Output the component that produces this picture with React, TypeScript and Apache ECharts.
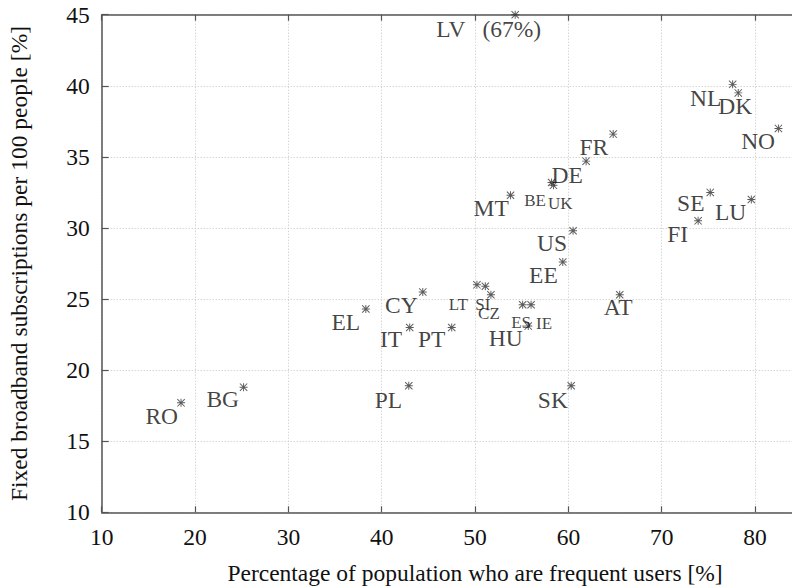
import React, { useEffect, useRef } from 'react';
import * as echarts from 'echarts';

// ---- data ----
const countries = ['RO', 'BG', 'EL', 'CY', 'IT', 'PT', 'PL', 'LT', 'SI', 'CZ', 'ES', 'IE', 'HU', 'SK', 'AT', 'EE', 'US', 'MT', 'BE', 'UK', 'DE', 'FR', 'LV', 'NL', 'DK', 'NO', 'SE', 'LU', 'FI'];
const frequentUsers = [18.5, 25.2, 38.3, 44.4, 43.0, 47.5, 42.9, 50.2, 51.1, 51.7, 55.1, 56.0, 55.7, 60.3, 65.5, 59.4, 60.5, 53.8, 58.2, 58.4, 61.9, 64.8, 54.3, 77.6, 78.2, 82.5, 75.2, 79.6, 73.9];
const broadband = [17.7, 18.8, 24.3, 25.5, 23.0, 23.0, 18.9, 26.0, 25.9, 25.3, 24.6, 24.6, 23.1, 18.9, 25.3, 27.6, 29.8, 32.3, 33.2, 33.0, 34.7, 36.6, 45.0, 40.1, 39.5, 37.0, 32.5, 32.0, 30.5];
const lvTrueValue = '(67%)';

const xMin = 10;
const xMax = 90;
const xStep = 10;
const yMin = 10;
const yMax = 45;
const yStep = 5;

const xTitle = 'Percentage of population who are frequent users [%]';
const yTitle = 'Fixed broadband subscriptions per 100 people [%]';

// ---- label placement (style, not data) ----
type Placement = { align: 'left' | 'right' | 'center'; dx: number; dy: number; small?: boolean };
const labelPlacement: Record<string, Placement> = {
  RO: { align: 'right', dx: -3, dy: 12.7 },
  BG: { align: 'right', dx: -4.5, dy: 12.3 },
  EL: { align: 'right', dx: -5.7, dy: 12.7 },
  CY: { align: 'right', dx: -5, dy: 12.7 },
  IT: { align: 'right', dx: -7.6, dy: 12 },
  PT: { align: 'right', dx: -6.3, dy: 12 },
  PL: { align: 'right', dx: -6.6, dy: 14 },
  LT: { align: 'right', dx: -9, dy: 19.3, small: true },
  SI: { align: 'center', dx: -2.5, dy: 18.3, small: true },
  CZ: { align: 'center', dx: -2, dy: 19, small: true },
  ES: { align: 'center', dx: -1.5, dy: 18, small: true },
  IE: { align: 'left', dx: 5, dy: 19, small: true },
  HU: { align: 'right', dx: -5.6, dy: 11.6 },
  SK: { align: 'right', dx: -3.3, dy: 14 },
  AT: { align: 'center', dx: -1.6, dy: 12.4 },
  EE: { align: 'right', dx: -5, dy: 12.7 },
  US: { align: 'right', dx: -6, dy: 12.6 },
  MT: { align: 'right', dx: -1.7, dy: 12.3 },
  BE: { align: 'right', dx: -5.7, dy: 18.4, small: true },
  UK: { align: 'left', dx: -5.4, dy: 18.4, small: true },
  DE: { align: 'right', dx: -3.3, dy: 14 },
  FR: { align: 'right', dx: -5, dy: 12.7 },
  LV: { align: 'right', dx: 26, dy: 14 },
  NL: { align: 'right', dx: -11.3, dy: 13.3 },
  DK: { align: 'center', dx: -3, dy: 13.4 },
  NO: { align: 'right', dx: -3.3, dy: 12.4 },
  SE: { align: 'right', dx: -5.7, dy: 11 },
  LU: { align: 'right', dx: -5, dy: 12.4 },
  FI: { align: 'right', dx: -10, dy: 13 },
};

const FONT = '"Liberation Serif", "Times New Roman", serif';
const TEXT = '#111';
const AXIS = '#555';
const BIG = 23.5;
const SMALL = 17;
const STAR =
  'path://M0 4.4H10V5.6H0Z M4.4 0H5.6V10H4.4Z M0.85 0L10 9.15L9.15 10L0 0.85Z M9.15 0L10 0.85L0.85 10L0 9.15Z';

export default function App() {
  const ref = useRef<HTMLDivElement>(null);

  useEffect(() => {
    document.body.style.margin = '0';
    if (!ref.current) return;
    const chart = echarts.init(ref.current, undefined, { renderer: 'svg' });

    const data = countries.map((c, i) => {
      const p = labelPlacement[c] || { align: 'right', dx: -6, dy: 12.5 };
      const isLV = c === 'LV';
      return {
        name: c,
        value: [frequentUsers[i], broadband[i]],
        label: {
          show: true,
          position: 'inside',
          align: p.align,
          verticalAlign: 'middle',
          offset: [p.dx, p.dy],
          formatter: isLV ? `{a|${c}}{b|${lvTrueValue}}` : c,
          fontFamily: FONT,
          fontSize: p.small ? SMALL : BIG,
          color: TEXT,
          textBorderWidth: 0,
          rich: isLV
            ? {
                a: { fontFamily: FONT, fontSize: BIG, color: TEXT },
                b: { fontFamily: FONT, fontSize: BIG, color: TEXT, padding: [0, 0, 0, 17] },
              }
            : undefined,
        },
      };
    });

    const gridLine = { show: true, lineStyle: { color: '#c4c4c4', type: [1, 2] as any, width: 1 } };

    chart.setOption({
      animation: false,
      backgroundColor: '#fff',
      grid: {
        left: 101.7,
        top: 14.7,
        width: 746.7,
        height: 497.6,
        containLabel: false,
        outerBoundsMode: 'none',
      },
      xAxis: [
        {
          type: 'value',
          min: xMin,
          max: xMax,
          interval: xStep,
          position: 'bottom',
          name: xTitle,
          nameLocation: 'middle',
          nameGap: 49,
          nameTextStyle: { fontFamily: FONT, fontSize: BIG, color: TEXT },
          axisLine: { show: true, onZero: false, lineStyle: { color: AXIS, width: 1.5 } },
          axisTick: { show: true, inside: true, length: 6, lineStyle: { color: AXIS, width: 1.2 } },
          axisLabel: {
            fontFamily: FONT,
            fontSize: BIG,
            color: TEXT,
            margin: 13,
            formatter: (v: number) => (v >= xMax ? '' : String(v)),
          },
          splitLine: gridLine,
        },
        {
          type: 'value',
          min: xMin,
          max: xMax,
          interval: xStep,
          position: 'top',
          axisLine: { show: true, onZero: false, lineStyle: { color: AXIS, width: 1.5 } },
          axisTick: { show: true, inside: true, length: 6, lineStyle: { color: AXIS, width: 1.2 } },
          axisLabel: { show: false },
          splitLine: { show: false },
        },
      ],
      yAxis: {
        type: 'value',
        min: yMin,
        max: yMax,
        interval: yStep,
        name: yTitle,
        nameLocation: 'middle',
        nameGap: 71,
        nameTextStyle: { fontFamily: FONT, fontSize: BIG, color: TEXT },
        axisLine: { show: true, onZero: false, lineStyle: { color: AXIS, width: 1.5 } },
        axisTick: { show: true, inside: true, length: 7, lineStyle: { color: AXIS, width: 1.2 } },
        axisLabel: { fontFamily: FONT, fontSize: BIG, color: TEXT, margin: 12 },
        splitLine: gridLine,
      },
      series: [
        {
          type: 'scatter',
          xAxisIndex: 0,
          yAxisIndex: 0,
          symbol: STAR,
          symbolSize: 8,
          clip: false,
          itemStyle: { color: '#333' },
          data,
        },
      ],
    });

    return () => chart.dispose();
  }, []);

  return <div ref={ref} style={{ width: 792, height: 587 }} />;
}
